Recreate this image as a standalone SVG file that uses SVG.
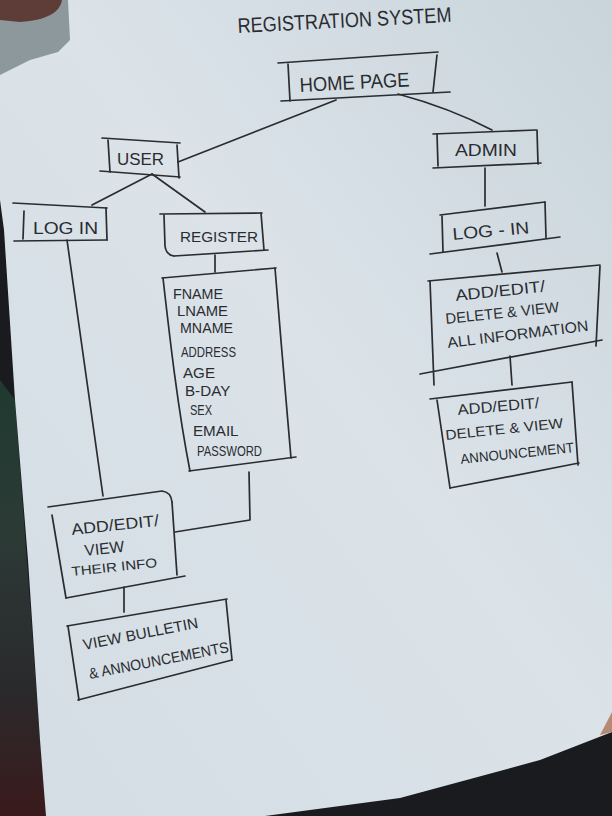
<svg xmlns="http://www.w3.org/2000/svg" width="612" height="816" viewBox="0 0 612 816">
<defs>
<linearGradient id="paper" x1="1" y1="0" x2="0" y2="1">
<stop offset="0" stop-color="#c9d4db"/>
<stop offset="0.45" stop-color="#dbe3e9"/>
<stop offset="1" stop-color="#d3dde3"/>
</linearGradient>
<linearGradient id="leftbg" x1="0" y1="0" x2="0" y2="1">
<stop offset="0" stop-color="#1f3a30"/>
<stop offset="0.35" stop-color="#2c3a36"/>
<stop offset="0.7" stop-color="#2a2a2c"/>
<stop offset="1" stop-color="#3a1a1c"/>
</linearGradient>
<style>
.ln{fill:none;stroke:#2a2c30;stroke-width:1.7;stroke-linecap:round;stroke-linejoin:round}
.t{font-family:"Liberation Sans","DejaVu Sans",sans-serif;fill:#2a2c30}
</style>
</defs>
<!-- backdrop -->
<rect x="0" y="0" width="612" height="816" fill="#1a1b1f"/>
<path d="M0,380 L0,816 L50,816 L40,740 L15,400 Z" fill="url(#leftbg)"/>
<path d="M0,0 L612,0 L612,732 L540,760 L400,798 L265,816 L46,816 L40,740 L28,560 L15,400 L4,230 L0,200 Z" fill="url(#paper)"/>
<path d="M0,0 L68,0 L70,40 L58,52 L30,60 L0,75 Z" fill="#8d989d"/>
<path d="M0,0 L62,0 C60,12 48,20 20,22 L0,20 Z" fill="#5e3d38"/>
<path d="M600,735 L612,712 L612,732 Z" fill="#b58a75"/>

<!-- title -->
<g id="title">
<text class="t" x="238" y="33" font-size="21" textLength="214" lengthAdjust="spacingAndGlyphs" transform="rotate(-3 238 33)">REGISTRATION SYSTEM</text>
</g>

<g id="connectors">
<path class="ln" d="M336,100 L178,162"/>
<path class="ln" d="M398,94 Q450,108 492,130"/>
<path class="ln" d="M152,174 L92,205"/>
<path class="ln" d="M152,174 L205,212"/>
<path class="ln" d="M215,255 L215,272"/>
<path class="ln" d="M67,240 L103,496"/>
<path class="ln" d="M249,472 L250,520 L175,532"/>
<path class="ln" d="M124,587 L124,612"/>
<path class="ln" d="M485,168 L485,206"/>
<path class="ln" d="M497,253 L502,272"/>
<path class="ln" d="M510,356 L512,385"/>
</g>

<g id="home-page">
<path class="ln" d="M278,63 L438,52"/>
<path class="ln" d="M288,64 L290,101"/>
<path class="ln" d="M437,55 L433,92"/>
<path class="ln" d="M281,101 L450,92"/>
<text class="t" x="300" y="92" font-size="20" textLength="110" lengthAdjust="spacingAndGlyphs" transform="rotate(-3 300 92)">HOME PAGE</text>
</g>

<g id="user">
<path class="ln" d="M102,138 L180,143"/>
<path class="ln" d="M108,140 L110,172"/>
<path class="ln" d="M177,145 L179,178"/>
<path class="ln" d="M100,171 L180,177"/>
<text class="t" x="117" y="165" font-size="16" textLength="47" lengthAdjust="spacingAndGlyphs">USER</text>
</g>

<g id="login-user">
<path class="ln" d="M13,203 L107,208"/>
<path class="ln" d="M24,211 L23,239"/>
<path class="ln" d="M106,208 L107,240"/>
<path class="ln" d="M14,241 L107,240"/>
<text class="t" x="33" y="234" font-size="16" textLength="65" lengthAdjust="spacingAndGlyphs">LOG IN</text>
</g>

<g id="register">
<path class="ln" d="M160,214 L262,213"/>
<path class="ln" d="M164,215 L165,246 Q166,255 174,256"/>
<path class="ln" d="M261,213 L264,250"/>
<path class="ln" d="M174,256 L268,250"/>
<text class="t" x="180" y="242" font-size="15" textLength="78" lengthAdjust="spacingAndGlyphs">REGISTER</text>
</g>

<g id="fields">
<path class="ln" d="M162,278 L276,268"/>
<path class="ln" d="M163,278 C170,340 178,410 190,471"/>
<path class="ln" d="M275,268 C280,330 286,400 291,458"/>
<path class="ln" d="M189,471 L296,457"/>
<text class="t" font-size="15">
<tspan x="173" y="299" textLength="50" lengthAdjust="spacingAndGlyphs">FNAME</tspan>
<tspan x="177" y="316" textLength="51" lengthAdjust="spacingAndGlyphs">LNAME</tspan>
<tspan x="180" y="333" textLength="53" lengthAdjust="spacingAndGlyphs">MNAME</tspan>
<tspan x="181" y="357" textLength="55" lengthAdjust="spacingAndGlyphs">ADDRESS</tspan>
<tspan x="183" y="378" textLength="32" lengthAdjust="spacingAndGlyphs">AGE</tspan>
<tspan x="185" y="396" textLength="45" lengthAdjust="spacingAndGlyphs">B-DAY</tspan>
<tspan x="190" y="415" textLength="22" lengthAdjust="spacingAndGlyphs">SEX</tspan>
<tspan x="193" y="436" textLength="45" lengthAdjust="spacingAndGlyphs">EMAIL</tspan>
<tspan x="197" y="456" textLength="65" lengthAdjust="spacingAndGlyphs">PASSWORD</tspan>
</text>
</g>

<g id="user-add-edit">
<path class="ln" d="M48,507 L162,491 Q171,492 172,502"/>
<path class="ln" d="M52,515 L66,598"/>
<path class="ln" d="M172,502 L177,575"/>
<path class="ln" d="M66,598 L185,576"/>
<text class="t" x="72" y="535" font-size="16" textLength="88" lengthAdjust="spacingAndGlyphs" transform="rotate(-6 72 535)">ADD/EDIT/</text>
<text class="t" x="85" y="556" font-size="16" textLength="40" lengthAdjust="spacingAndGlyphs" transform="rotate(-6 85 556)">VIEW</text>
<text class="t" x="72" y="576" font-size="13" textLength="86" lengthAdjust="spacingAndGlyphs" transform="rotate(-6 72 576)">THEIR INFO</text>
</g>

<g id="bulletin">
<path class="ln" d="M67,626 L227,599"/>
<path class="ln" d="M68,626 L79,700"/>
<path class="ln" d="M226,600 L232,660"/>
<path class="ln" d="M78,700 L232,660"/>
<text class="t" x="84" y="650" font-size="15" textLength="117" lengthAdjust="spacingAndGlyphs" transform="rotate(-11 84 650)">VIEW BULLETIN</text>
<text class="t" x="90" y="679" font-size="15" textLength="142" lengthAdjust="spacingAndGlyphs" transform="rotate(-11 90 679)">&amp; ANNOUNCEMENTS</text>
</g>

<g id="admin">
<path class="ln" d="M433,134 L536,130"/>
<path class="ln" d="M437,134 L438,166"/>
<path class="ln" d="M537,130 L538,164"/>
<path class="ln" d="M433,168 L541,163"/>
<text class="t" x="455" y="156" font-size="17" textLength="62" lengthAdjust="spacingAndGlyphs">ADMIN</text>
</g>

<g id="login-admin">
<path class="ln" d="M440,215 L545,202"/>
<path class="ln" d="M442,216 L443,252"/>
<path class="ln" d="M545,202 L546,238"/>
<path class="ln" d="M430,254 L560,237"/>
<text class="t" x="453" y="240" font-size="17" textLength="77" lengthAdjust="spacingAndGlyphs" transform="rotate(-5 453 240)">LOG - IN</text>
</g>

<g id="admin-info">
<path class="ln" d="M428,281 L600,265"/>
<path class="ln" d="M430,281 L434,385"/>
<path class="ln" d="M600,266 L596,346"/>
<path class="ln" d="M420,374 L602,340"/>
<text class="t" x="456" y="301" font-size="16" textLength="90" lengthAdjust="spacingAndGlyphs" transform="rotate(-6 456 301)">ADD/EDIT/</text>
<text class="t" x="446" y="324" font-size="15" textLength="114" lengthAdjust="spacingAndGlyphs" transform="rotate(-6 446 324)">DELETE &amp; VIEW</text>
<text class="t" x="448" y="348" font-size="15" textLength="142" lengthAdjust="spacingAndGlyphs" transform="rotate(-7 448 348)">ALL INFORMATION</text>
</g>

<g id="admin-announcement">
<path class="ln" d="M430,399 L572,382"/>
<path class="ln" d="M437,400 L450,488"/>
<path class="ln" d="M572,382 L578,465"/>
<path class="ln" d="M450,488 L579,463"/>
<text class="t" x="458" y="415" font-size="15" textLength="82" lengthAdjust="spacingAndGlyphs" transform="rotate(-5 458 415)">ADD/EDIT/</text>
<text class="t" x="446" y="440" font-size="14" textLength="118" lengthAdjust="spacingAndGlyphs" transform="rotate(-6 446 440)">DELETE &amp; VIEW</text>
<text class="t" x="461" y="464" font-size="14" textLength="114" lengthAdjust="spacingAndGlyphs" transform="rotate(-6 461 464)">ANNOUNCEMENT</text>
</g>
</svg>
